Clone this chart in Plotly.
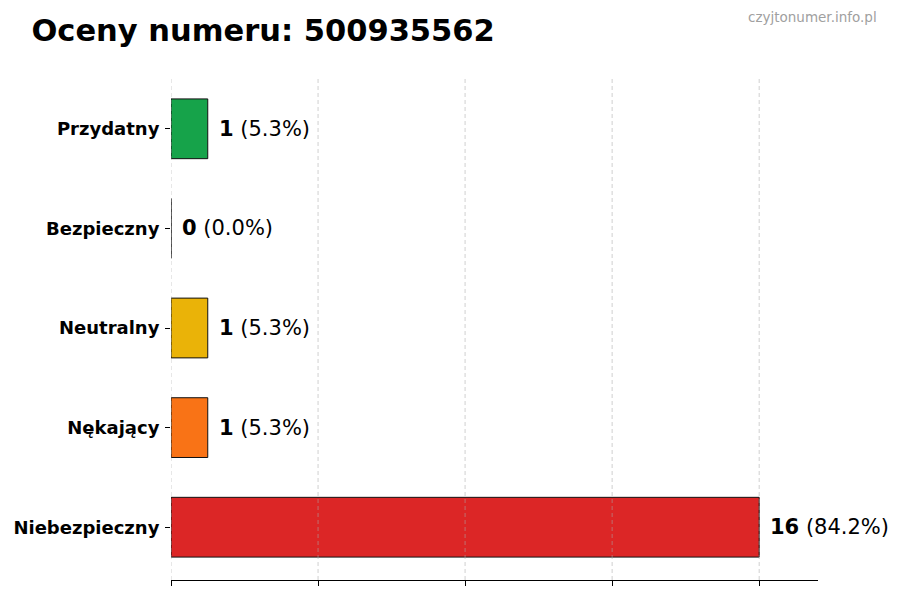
import plotly.graph_objects as go

# data
categories = ["Przydatny", "Bezpieczny", "Neutralny", "Nękający", "Niebezpieczny"]
counts = [1, 0, 1, 1, 16]
bar_colors = ["#16a34a", "#9ca3af", "#eab308", "#f97316", "#dc2626"]
x_ticks = [0, 4, 8, 12, 16]

total = sum(counts)
percents = [c / total * 100 for c in counts]

fig = go.Figure()
fig.add_trace(go.Bar(
    x=counts, y=categories, orientation="h",
    width=0.6,
    marker=dict(color=bar_colors, line=dict(color="#111111", width=1)),
    hoverinfo="skip",
))

for cat, c, p in zip(categories, counts, percents):
    fig.add_annotation(
        x=c, y=cat, xref="x", yref="y",
        text=f"<b>{c}</b> ({p:.1f}%)",
        showarrow=False, xanchor="left", xshift=9,
        font=dict(family="DejaVu Sans", size=21, color="black"),
    )

# dashed grid drawn over the bars, like the reference
for t in x_ticks:
    fig.add_vline(x=t, line=dict(color="rgba(170,170,170,0.55)", width=1, dash="4px,3px"),
                  layer="above")

fig.update_layout(
    width=900, height=600,
    margin=dict(l=163, r=90, t=68, b=28),
    plot_bgcolor="white", paper_bgcolor="white",
    showlegend=False,
    title=dict(text="<b>Oceny numeru: 500935562</b>", x=0.026, xanchor="left",
               y=0.963, yanchor="middle",
               font=dict(family="DejaVu Sans", size=30.5, color="black")),
    font=dict(family="DejaVu Sans"),
)
fig.add_annotation(
    text="czyjtonumer.info.pl", xref="paper", yref="paper",
    x=1.094, y=1.117, xanchor="right", yanchor="middle", showarrow=False,
    font=dict(family="DejaVu Sans", size=13.5, color="#a0a0a0"),
)

fig.update_xaxes(
    range=[0, max(counts) * 1.1], tickvals=x_ticks, showticklabels=False,
    showgrid=False, zeroline=False, showline=True, linecolor="black", linewidth=1,
    ticks="outside", ticklen=5, tickcolor="black", automargin=False,
)
fig.update_yaxes(
    categoryorder="array", categoryarray=categories, autorange=False,
    range=[len(categories) - 0.47, -0.53],
    showgrid=False, zeroline=False, showline=False,
    ticks="outside", ticklen=5, tickcolor="black", ticklabelstandoff=2,
    tickfont=dict(family="DejaVu Sans", size=18, color="black", weight="bold"),
    automargin=False,
)

fig.write_html("out.html")
